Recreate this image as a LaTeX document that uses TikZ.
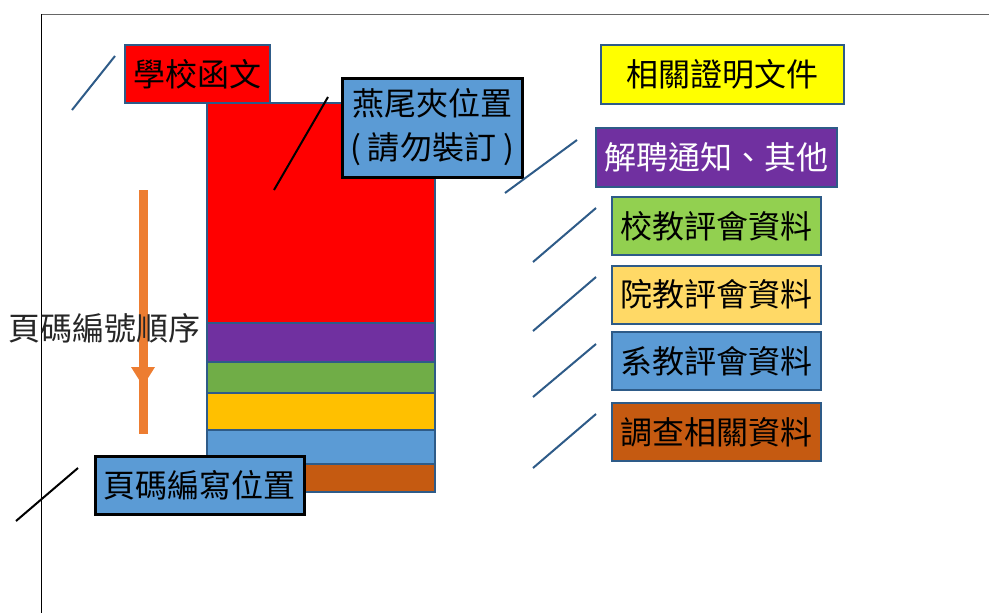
\documentclass[tikz,border=0pt]{standalone}
\usepackage{fontspec}
\newfontfamily\cjk{Noto Sans CJK TC}
\definecolor{edge}{HTML}{2E5B88}
\definecolor{fred}{HTML}{FF0000}
\definecolor{fpurple}{HTML}{7030A0}
\definecolor{fgreen}{HTML}{70AD47}
\definecolor{flgreen}{HTML}{92D050}
\definecolor{fgold}{HTML}{FFC000}
\definecolor{fpale}{HTML}{FFD966}
\definecolor{fblue}{HTML}{5B9BD5}
\definecolor{fbrown}{HTML}{C55A11}
\definecolor{forange}{HTML}{ED7D31}
\definecolor{fyellow}{HTML}{FFFF00}
\definecolor{ftext}{HTML}{262626}
\begin{document}
\begin{tikzpicture}[x=1pt,y=-1pt,
  lbl/.style={font=\cjk\fontsize{32}{38}\selectfont, inner sep=0pt, text=black},
  bbox/.style={lbl, draw=edge, line width=2pt},
  kbox/.style={lbl, draw=black, line width=3pt},
  band/.style={draw=edge, line width=2pt},
  tick/.style={draw=edge, line width=2pt},
  ktick/.style={draw=black, line width=2pt}]
\useasboundingbox (0,0) rectangle (989,613);
% frame
\draw[gray!80!black, line width=1pt] (41,14) -- (989,14);
\draw[black, line width=0.8pt] (41,14) -- (41,613);
% stack
\draw[band, fill=fred] (207,103) rectangle (435,323);
\draw[band, fill=fpurple] (207,323) rectangle (435,362);
\draw[band, fill=fgreen] (207,362) rectangle (435,393);
\draw[band, fill=fgold] (207,393) rectangle (435,430);
\draw[band, fill=fblue] (207,430) rectangle (435,464);
\draw[band, fill=fbrown] (207,464) rectangle (435,492);
% orange order arrow
\draw[forange, line width=9pt] (143,190) -- (143,434);
\fill[forange] (131,367) -- (155,367) -- (143,386) -- cycle;
\node[lbl, text=ftext] (order) at (105,328) {頁碼編號順序};
% boxes
\node[bbox, fill=fred, minimum width=145pt, minimum height=58pt] (school) at (197.5,74) {學校函文};
\node[kbox, fill=fblue, minimum width=180pt, minimum height=99pt, align=center] (clip) at (432,127.5) {燕尾夾位置\\[6pt](\ 請勿裝訂\ )};
\node[kbox, fill=fblue, minimum width=209pt, minimum height=58pt] (pagepos) at (199.5,485.5) {頁碼編寫位置};
\node[bbox, fill=fyellow, minimum width=243pt, minimum height=59pt] (docs) at (722,74) {相關證明文件};
\node[bbox, fill=fpurple, text=white, minimum width=241pt, minimum height=59pt] (notice) at (716.5,157.5) {解聘通知、其他};
\node[bbox, fill=flgreen, minimum width=209pt, minimum height=58pt] (univ) at (716.5,226) {校教評會資料};
\node[bbox, fill=fpale, minimum width=209pt, minimum height=58pt] (coll) at (716.5,294.5) {院教評會資料};
\node[bbox, fill=fblue, minimum width=209pt, minimum height=58pt] (dept) at (716.5,361) {系教評會資料};
\node[bbox, fill=fbrown, minimum width=209pt, minimum height=58pt] (survey) at (716.5,432) {調查相關資料};
% tick lines
\coordinate (s1) at (72,110); \coordinate (s2) at (115,56);
\draw[tick] (s1) -- (s2);
\coordinate (c1) at (274,190); \coordinate (c2) at (328,97);
\draw[ktick] (c1) -- (c2);
\coordinate (p1) at (16,521); \coordinate (p2) at (78,468);
\draw[ktick] (p1) -- (p2);
\coordinate (n1) at (505,193); \coordinate (n2) at (577,140);
\draw[tick] (n1) -- (n2);
\coordinate (u1) at (533,262); \coordinate (u2) at (596,208);
\draw[tick] (u1) -- (u2);
\coordinate (l1) at (533,331); \coordinate (l2) at (596,277);
\draw[tick] (l1) -- (l2);
\coordinate (d1) at (533,397); \coordinate (d2) at (596,344);
\draw[tick] (d1) -- (d2);
\coordinate (v1) at (533,468); \coordinate (v2) at (596,414);
\draw[tick] (v1) -- (v2);
\end{tikzpicture}
\end{document}
